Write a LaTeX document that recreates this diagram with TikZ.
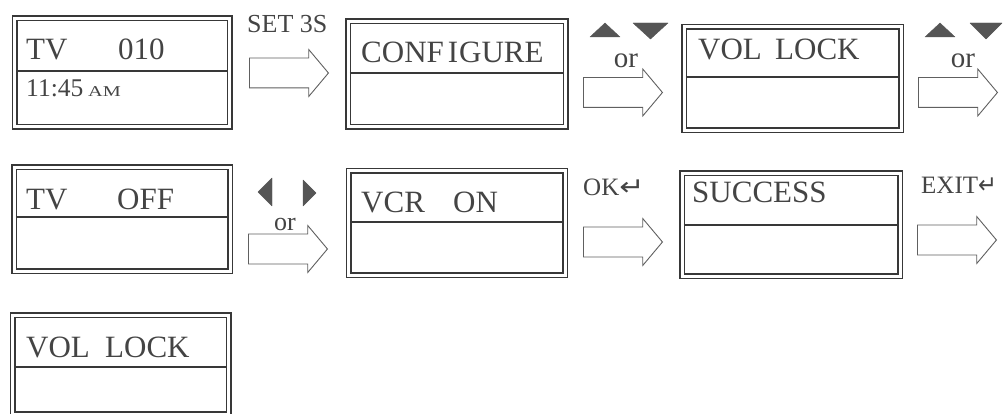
\documentclass[tikz,border=0pt]{standalone}
\usepackage{fontspec}
\usepackage{graphicx}
\setmainfont{Liberation Serif}
\newfontfamily\symfont{DejaVu Sans}
\usetikzlibrary{shapes.arrows}
\definecolor{ink}{HTML}{383838}
\definecolor{txt}{HTML}{444444}
\definecolor{tri}{HTML}{555555}
\begin{document}
\begin{tikzpicture}[x=1pt,y=-1pt,
  lcd/.style={draw=ink, double=white, double distance=3pt, line width=1.6pt,
    minimum width=216pt, minimum height=105pt, inner sep=0pt, anchor=north west},
  divider/.style={draw=ink, line width=1.1pt},
  lcdtext/.style={text=txt, font=\fontsize{31}{31}\selectfont, inner sep=0pt, anchor=base west},
  keytext/.style={text=txt, inner sep=0pt},
  blockarrow/.style={single arrow, draw=ink!80, fill=white, line width=0.9pt,
    minimum height=79pt, inner xsep=0pt, inner ysep=14.5pt,
    single arrow head extend=8.5pt, single arrow tip angle=100, anchor=tail},
  keytri/.style={fill=tri, draw=tri, line width=0.4pt, line join=round}
]
\fill[white] (0,0) rectangle (1004,414);
\useasboundingbox (0,0) rectangle (1004,414);

% LCD boxes
\node[lcd, minimum width=215pt, minimum height=108.5pt] (b1) at (14,17.5) {};
\node[lcd, minimum width=217.5pt, minimum height=105.5pt] (b2) at (347.5,20.5) {};
\node[lcd, minimum width=217pt, minimum height=103.5pt] (b3) at (683.5,26) {};
\node[lcd, minimum width=216pt, minimum height=104pt] (b4) at (13.5,166.5) {};
\node[lcd, minimum width=216.5pt, minimum height=104.5pt] (b5) at (348,170) {};
\node[lcd, minimum width=218pt, minimum height=103pt] (b6) at (681.5,172.5) {};
\node[lcd, minimum width=216pt, minimum height=99pt] (b7) at (12,314.5) {};

% dividers
\foreach \b/\d in {b1/53.5, b2/52.5, b3/51, b4/50.5, b5/52, b6/52.5, b7/52.5}{
  \draw[divider] ([xshift=2.3pt,yshift=-\d pt]\b.north west) -- ([xshift=-2.3pt,yshift=-\d pt]\b.north east);
}

% LCD texts
\node[lcdtext] (t1) at (26,60) {\makebox[92pt][l]{TV }010};
\node[lcdtext, font=\fontsize{25.5}{25.5}\selectfont] (t1b) at (26,97) {\makebox[62pt][l]{11:45 }\scalebox{1.35}[1]{\fontsize{15}{15}\selectfont AM}};
\node[lcdtext] (t2) at (361,63) {CONF\kern4pt I\kern1pt GURE};
\node[lcdtext] (t3) at (698,60) {\makebox[77pt][l]{VOL }LOCK};
\node[lcdtext] (t4) at (26,210) {\makebox[91pt][l]{TV }OFF};
\node[lcdtext] (t5) at (361,213) {\makebox[92pt][l]{VCR }ON};
\node[lcdtext] (t6) at (692,203) {SUCCESS};
\node[lcdtext] (t7) at (26,357) {\makebox[79pt][l]{VOL }LOCK};

% block arrows
\node[blockarrow] (a1) at (249,73) {};
\node[blockarrow] (a2) at (583,92.5) {};
\node[blockarrow] (a3) at (918,92.5) {};
\node[blockarrow] (a4) at (248,249) {};
\node[blockarrow] (a5) at (583,242) {};
\node[blockarrow] (a6) at (917,240) {};

% key labels
\node[keytext, font=\fontsize{26}{26}\selectfont, anchor=base west] (k1) at (247,33) {SET 3S};
\node[keytext, font=\fontsize{29}{29}\selectfont, anchor=base] (k2) at (626,68) {or};
\node[keytext, font=\fontsize{29}{29}\selectfont, anchor=base] (k3) at (963,68) {or};
\node[keytext, font=\fontsize{26}{26}\selectfont, anchor=base] (k4) at (285,230) {or};
\node[keytext, font=\fontsize{25}{25}\selectfont, anchor=base west] (k5) at (583,196) {OK{\symfont\scalebox{1.2}[1]{↵}}};
\node[keytext, font=\fontsize{25}{25}\selectfont, anchor=base west] (k6) at (921,194) {EXIT{\symfont\scalebox{0.9}[1]{↵}}};

% key triangles
\fill[keytri] (590,37) -- (605,23) -- (620,37) -- cycle;
\fill[keytri] (633,23) -- (668,23) -- (650.5,39) -- cycle;
\fill[keytri] (925,37) -- (940,23) -- (955,37) -- cycle;
\fill[keytri] (970,23) -- (1002,23) -- (986,39) -- cycle;
\fill[keytri] (272,178) -- (272,206) -- (258,192) -- cycle;
\fill[keytri] (303,180) -- (303,206) -- (316,193) -- cycle;
\end{tikzpicture}
\end{document}
